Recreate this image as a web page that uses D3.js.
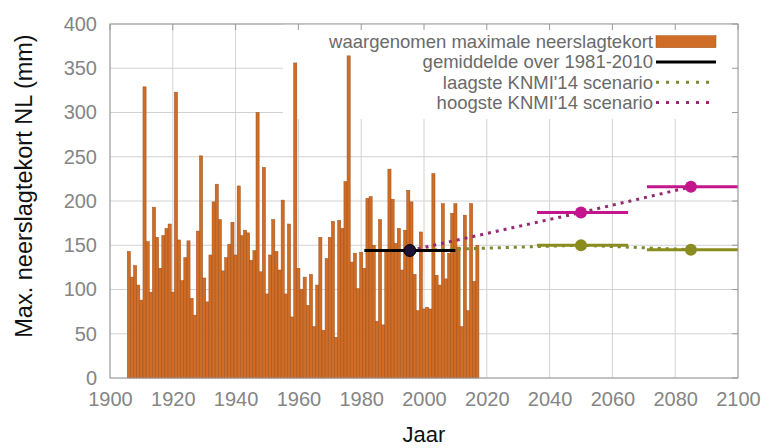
<!DOCTYPE html>
<html>
<head>
<meta charset="utf-8">
<script src="https://cdn.jsdelivr.net/npm/d3@7"></script>
<style>
  body { margin: 0; background: #fff; }
  svg { display: block; }
  text { font-family: "Liberation Sans", Arial, Helvetica, sans-serif; }
</style>
</head>
<body>
<svg id="chart" width="764" height="448"></svg>
<script>
// ---------- data ----------
const firstYear = 1906;
const deficit = [
  143, 114, 127, 105, 88, 329, 154, 97, 193, 159,   // 1906-1915
  124, 161, 169, 174, 97, 323, 156, 110, 136, 155,  // 1916-1925
  90, 71, 166, 251, 113, 86, 139, 199, 219, 179,    // 1926-1935
  121, 136, 151, 176, 139, 217, 161, 167, 164, 133, // 1936-1945
  144, 300, 120, 238, 95, 139, 179, 143, 122, 201,  // 1946-1955
  95, 174, 69, 356, 124, 100, 114, 82, 117, 58,     // 1956-1965
  105, 159, 54, 135, 159, 177, 46, 178, 169, 222,   // 1966-1975
  364, 131, 141, 101, 142, 124, 203, 205, 150, 64,  // 1976-1985
  179, 60, 144, 236, 202, 152, 169, 122, 167, 212,  // 1986-1995
  199, 117, 76, 165, 78, 80, 78, 231, 116, 105,     // 1996-2005
  197, 112, 141, 186, 197, 148, 58, 184, 76, 197,   // 2006-2015
  109, 150                                          // 2016-2017
];
const xTicks = [1900, 1920, 1940, 1960, 1980, 2000, 2020, 2040, 2060, 2080, 2100];
const yTicks = [0, 50, 100, 150, 200, 250, 300, 350, 400];

const meanPeriod = [1981, 2010];
const meanCenter = 1995.5;
const meanValue = 144;

const scenarioPeriods = [[2036, 2065], [2071, 2100]];
const scenarioCenters = [2050, 2085];
const lowScenario = [150, 145];
const highScenario = [187, 216];

const legendLabels = [
  "waargenomen maximale neerslagtekort",
  "gemiddelde over 1981-2010",
  "laagste KNMI'14 scenario",
  "hoogste KNMI'14 scenario"
];

// ---------- styles ----------
const barFill = "#cf6c26", barStroke = "#a0501a";
const highColor = "#c3168c", highDot = "#962a72";
const lowColor = "#8b8c1f", lowDot = "#7b8a2a";
const gridColor = "#d2d2d2", frameColor = "#9a9a9a";

// ---------- scales ----------
const svg = d3.select("#chart");
const x = d3.scaleLinear().domain([1900, 2100]).range([110, 738]);
const y = d3.scaleLinear().domain([0, 400]).range([378, 24]);

// ---------- grid ----------
const grid = svg.append("g");
grid.selectAll("line.v").data(xTicks).join("line").attr("class", "v")
  .attr("x1", d => x(d)).attr("x2", d => x(d))
  .attr("y1", y(0)).attr("y2", y(400))
  .attr("stroke", gridColor).attr("stroke-width", 1);
grid.selectAll("line.h").data(yTicks).join("line").attr("class", "h")
  .attr("x1", x(1900)).attr("x2", x(2100))
  .attr("y1", d => y(d)).attr("y2", d => y(d))
  .attr("stroke", gridColor).attr("stroke-width", 1);

// legend background box (covers the grid)
svg.append("rect")
  .attr("x", 283).attr("y", y(400))
  .attr("width", x(2100) - 283).attr("height", 95)
  .attr("fill", "#fff");

// ---------- bars ----------
const yearW = x(1901) - x(1900);
svg.append("g").selectAll("rect").data(deficit).join("rect")
  .attr("x", (d, i) => x(firstYear + i - 0.5))
  .attr("width", yearW)
  .attr("y", d => y(d))
  .attr("height", d => y(0) - y(d))
  .attr("fill", barFill)
  .attr("stroke", barStroke)
  .attr("stroke-width", 0.5);

// ---------- scenario dotted connections ----------
const line = d3.line().x(d => x(d[0])).y(d => y(d[1]));
const lowPts = [[meanCenter, meanValue]].concat(scenarioCenters.map((c, i) => [c, lowScenario[i]]));
const highPts = [[meanCenter, meanValue]].concat(scenarioCenters.map((c, i) => [c, highScenario[i]]));

svg.append("path").attr("d", line(lowPts)).attr("fill", "none")
  .attr("stroke", lowDot).attr("stroke-width", 3).attr("stroke-dasharray", "3,5");
svg.append("path").attr("d", line(highPts)).attr("fill", "none")
  .attr("stroke", highDot).attr("stroke-width", 3).attr("stroke-dasharray", "3,5");

// ---------- scenario segments + markers ----------
function segment(period, value, color) {
  svg.append("line")
    .attr("x1", x(period[0])).attr("x2", x(period[1]))
    .attr("y1", y(value)).attr("y2", y(value))
    .attr("stroke", color).attr("stroke-width", 3);
}
scenarioPeriods.forEach((p, i) => {
  segment(p, lowScenario[i], lowColor);
  segment(p, highScenario[i], highColor);
});
svg.append("g").selectAll("circle").data(scenarioCenters).join("circle")
  .attr("cx", d => x(d)).attr("cy", (d, i) => y(lowScenario[i])).attr("r", 6)
  .attr("fill", lowColor);
svg.append("g").selectAll("circle").data(scenarioCenters).join("circle")
  .attr("cx", d => x(d)).attr("cy", (d, i) => y(highScenario[i])).attr("r", 6)
  .attr("fill", highColor);

// mean 1981-2010
segment(meanPeriod, meanValue, "#000");
svg.append("circle").attr("cx", x(meanCenter)).attr("cy", y(meanValue)).attr("r", 6)
  .attr("fill", "#1d1233").attr("stroke", "#000").attr("stroke-width", 1);

// ---------- frame & inward ticks ----------
svg.append("rect")
  .attr("x", x(1900)).attr("y", y(400))
  .attr("width", x(2100) - x(1900)).attr("height", y(0) - y(400))
  .attr("fill", "none").attr("stroke", frameColor).attr("stroke-width", 1);
const ticks = svg.append("g").attr("stroke", frameColor).attr("stroke-width", 1);
ticks.selectAll("line.t").data(xTicks).join("line").attr("class", "t")
  .attr("x1", d => x(d)).attr("x2", d => x(d)).attr("y1", y(400)).attr("y2", y(400) + 6);
ticks.selectAll("line.r").data(yTicks).join("line").attr("class", "r")
  .attr("x1", x(2100) - 6).attr("x2", x(2100)).attr("y1", d => y(d)).attr("y2", d => y(d));

// ---------- axes labels ----------
const xAxis = svg.append("g").attr("transform", `translate(0,${y(0)})`)
  .call(d3.axisBottom(x).tickValues(xTicks).tickFormat(d3.format("d")).tickSize(0).tickPadding(14));
const yAxis = svg.append("g").attr("transform", `translate(${x(1900)},0)`)
  .call(d3.axisLeft(y).tickValues(yTicks).tickSize(0).tickPadding(13));
[xAxis, yAxis].forEach(a => {
  a.select(".domain").remove();
  a.selectAll("text").attr("fill", "#858585")
    .style("font-size", "20px")
    .style("font-family", "'Liberation Sans', Arial, Helvetica, sans-serif");
});

svg.append("text")
  .attr("transform", `translate(32,186) rotate(-90)`)
  .attr("text-anchor", "middle")
  .attr("fill", "#111")
  .style("font-size", "23.5px")
  .text("Max. neerslagtekort NL (mm)");
svg.append("text")
  .attr("x", (x(1900) + x(2100)) / 2).attr("y", 442)
  .attr("text-anchor", "middle")
  .attr("fill", "#111")
  .style("font-size", "22px")
  .text("Jaar");

// ---------- legend ----------
const legendX = 653, swX0 = 656, swX1 = 716;
const legendY = i => 41.7 + i * 20.3;
const leg = svg.append("g");
leg.selectAll("text").data(legendLabels).join("text")
  .attr("x", legendX).attr("y", (d, i) => legendY(i)).attr("dy", "0.35em")
  .attr("text-anchor", "end").attr("fill", "#6a6a6a")
  .style("font-size", "18.5px")
  .text(d => d);
leg.append("rect").attr("x", swX0).attr("y", legendY(0) - 6)
  .attr("width", swX1 - swX0).attr("height", 12)
  .attr("fill", barFill).attr("stroke", barStroke).attr("stroke-width", 0.5);
leg.append("line").attr("x1", swX0).attr("x2", swX1).attr("y1", legendY(1)).attr("y2", legendY(1))
  .attr("stroke", "#000").attr("stroke-width", 3);
leg.append("line").attr("x1", swX0).attr("x2", swX1).attr("y1", legendY(2)).attr("y2", legendY(2))
  .attr("stroke", lowDot).attr("stroke-width", 3).attr("stroke-dasharray", "3,7");
leg.append("line").attr("x1", swX0).attr("x2", swX1).attr("y1", legendY(3)).attr("y2", legendY(3))
  .attr("stroke", highDot).attr("stroke-width", 3).attr("stroke-dasharray", "3,7");
</script>
</body>
</html>
